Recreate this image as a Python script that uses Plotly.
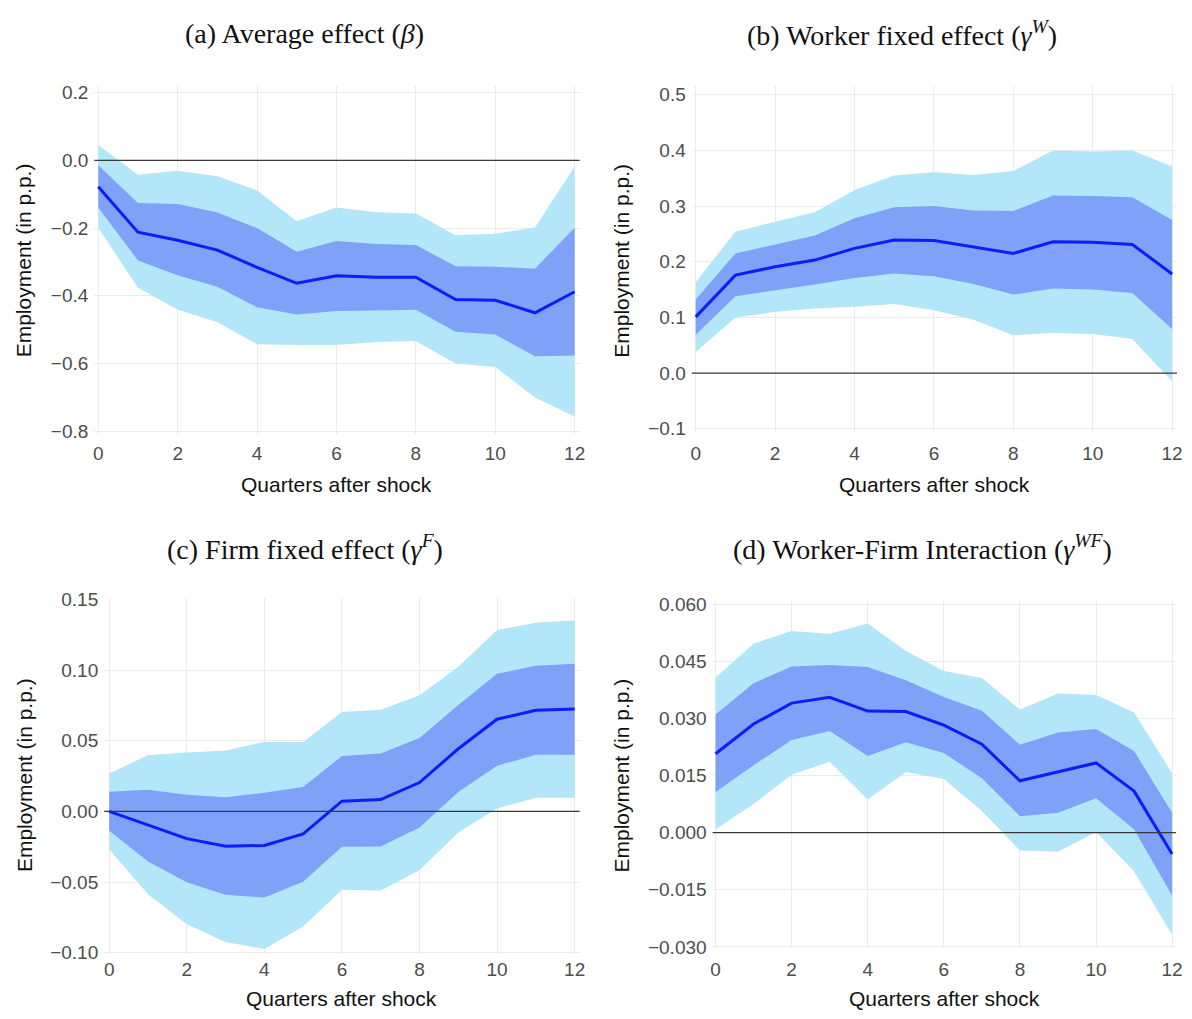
import plotly.graph_objects as go

W, H = 1192, 1019
quarters = list(range(13))

# Panel (a) Average effect (beta)
a_mean = [-0.078, -0.212, -0.236, -0.265, -0.316, -0.363, -0.341, -0.345, -0.345, -0.411, -0.413, -0.450, -0.388]
a_in_hi = [-0.015, -0.126, -0.129, -0.154, -0.200, -0.270, -0.238, -0.247, -0.250, -0.313, -0.314, -0.320, -0.199]
a_in_lo = [-0.139, -0.296, -0.339, -0.373, -0.434, -0.455, -0.445, -0.443, -0.441, -0.506, -0.514, -0.578, -0.576]
a_out_hi = [0.045, -0.043, -0.031, -0.047, -0.089, -0.180, -0.139, -0.153, -0.157, -0.221, -0.217, -0.198, -0.018]
a_out_lo = [-0.199, -0.376, -0.441, -0.477, -0.543, -0.545, -0.545, -0.536, -0.533, -0.600, -0.610, -0.700, -0.756]

# Panel (b) Worker fixed effect
b_mean = [0.101, 0.176, 0.191, 0.203, 0.224, 0.239, 0.238, 0.226, 0.215, 0.236, 0.235, 0.231, 0.178]
b_in_hi = [0.132, 0.215, 0.231, 0.247, 0.278, 0.298, 0.300, 0.292, 0.291, 0.319, 0.318, 0.316, 0.275]
b_in_lo = [0.069, 0.138, 0.148, 0.159, 0.171, 0.179, 0.174, 0.160, 0.141, 0.152, 0.150, 0.144, 0.079]
b_out_hi = [0.163, 0.254, 0.272, 0.289, 0.329, 0.355, 0.361, 0.356, 0.363, 0.400, 0.398, 0.400, 0.371]
b_out_lo = [0.038, 0.100, 0.110, 0.116, 0.119, 0.124, 0.113, 0.096, 0.068, 0.072, 0.070, 0.061, -0.015]

# Panel (c) Firm fixed effect
c_mean = [0.0, -0.0095, -0.0193, -0.0246, -0.0241, -0.016, 0.0072, 0.0084, 0.0204, 0.0443, 0.0652, 0.0715, 0.0724]
c_in_hi = [0.0139, 0.0153, 0.0118, 0.0100, 0.0132, 0.0172, 0.0392, 0.0409, 0.052, 0.0752, 0.0973, 0.1031, 0.1045]
c_in_lo = [-0.0137, -0.0355, -0.0501, -0.059, -0.061, -0.0497, -0.0251, -0.0248, -0.0114, 0.0137, 0.0323, 0.040, 0.040]
c_out_hi = [0.0269, 0.0397, 0.0416, 0.043, 0.0492, 0.049, 0.0703, 0.072, 0.0822, 0.1024, 0.1284, 0.1335, 0.1353]
c_out_lo = [-0.0269, -0.0587, -0.0799, -0.0924, -0.0973, -0.0815, -0.0555, -0.056, -0.0416, -0.0149, 0.0021, 0.0097, 0.0097]

# Panel (d) Worker-Firm interaction
d_mean = [0.0207, 0.0285, 0.0340, 0.0355, 0.0319, 0.0318, 0.0282, 0.0232, 0.0136, 0.0159, 0.0183, 0.0109, -0.0056]
d_in_hi = [0.031, 0.0392, 0.0436, 0.044, 0.0435, 0.040, 0.0356, 0.032, 0.0231, 0.0263, 0.0272, 0.0214, 0.0052]
d_in_lo = [0.0107, 0.0177, 0.0243, 0.0267, 0.0201, 0.0237, 0.0209, 0.0143, 0.0043, 0.0052, 0.009, 0.0009, -0.0165]
d_out_hi = [0.0407, 0.0496, 0.0529, 0.0522, 0.0549, 0.0477, 0.0424, 0.0406, 0.0323, 0.0365, 0.0361, 0.0315, 0.0156]
d_out_lo = [0.0009, 0.0075, 0.0152, 0.0186, 0.0087, 0.0159, 0.0141, 0.0057, -0.0047, -0.005, 0.0002, -0.0101, -0.0268]

titles = [
    "(a) Average effect (<i>β</i>)",
    "(b) Worker fixed effect (<i>γ</i><sup><i>W</i></sup>)",
    "(c) Firm fixed effect (<i>γ</i><sup><i>F</i></sup>)",
    "(d) Worker-Firm Interaction (<i>γ</i><sup><i>WF</i></sup>)",
]
x_title = "Quarters after shock"
y_title = "Employment (in p.p.)"

OUTER = "#b3e6f8"
INNER = "#7fa1f7"
LINE = "#0a1ef5"
GRID = "#ebebeb"
TICK = "#4d4d4d"
SANS = "Liberation Sans, Arial, sans-serif"

panels = [
    dict(mean=a_mean, ih=a_in_hi, il=a_in_lo, oh=a_out_hi, ol=a_out_lo,
         xpx=(93, 582), xr=(-0.1, 12.125), ypx=(78, 433), yr=(-0.8087, 0.2203),
         dt=0.2, fmt=".1f", xso=6, title_xy=(305, 25), xt_y=484, yt_y=256),
    dict(mean=b_mean, ih=b_in_hi, il=b_in_lo, oh=b_out_hi, ol=b_out_lo,
         xpx=(695, 1184), xr=(-0.1, 12.125), ypx=(78, 432), yr=(-0.1083, 0.5164),
         dt=0.1, fmt=".1f", xso=7, title_xy=(907, 25), xt_y=484, yt_y=256),
    dict(mean=c_mean, ih=c_in_hi, il=c_in_lo, oh=c_out_hi, ol=c_out_lo,
         xpx=(103, 582), xr=(-0.128, 12.128), ypx=(600, 962), yr=(-0.1009, 0.1507),
         dt=0.05, fmt=".2f", xso=2, title_xy=(305, 548), xt_y=1007, yt_y=780),
    dict(mean=d_mean, ih=d_in_hi, il=d_in_lo, oh=d_out_hi, ol=d_out_lo,
         xpx=(716, 1183), xr=(-0.078, 12.104), ypx=(603, 956), yr=(-0.0303, 0.0607),
         dt=0.015, fmt=".3f", xso=8, title_xy=(928, 548), xt_y=1007, yt_y=780),
]

fig = go.Figure()
annotations = []
shapes = []
for i, p in enumerate(panels):
    n = "" if i == 0 else str(i + 1)
    xa, ya = "x" + n, "y" + n
    xr = quarters + quarters[::-1]
    fig.add_trace(go.Scatter(x=xr, y=p["oh"] + p["ol"][::-1], fill="toself",
                             fillcolor=OUTER, line=dict(width=0), mode="lines",
                             hoverinfo="skip", showlegend=False, xaxis=xa, yaxis=ya))
    fig.add_trace(go.Scatter(x=xr, y=p["ih"] + p["il"][::-1], fill="toself",
                             fillcolor=INNER, line=dict(width=0), mode="lines",
                             hoverinfo="skip", showlegend=False, xaxis=xa, yaxis=ya))
    fig.add_trace(go.Scatter(x=quarters, y=p["mean"], mode="lines",
                             line=dict(color=LINE, width=3), showlegend=False,
                             xaxis=xa, yaxis=ya))
    # zero reference line
    shapes.append(dict(type="line", xref=xa + " domain", yref=ya, x0=0, x1=1, y0=0, y1=0,
                       line=dict(color="#3a3a3a", width=1.2), layer="above"))
    x0, x1 = p["xpx"]
    yt, yb = p["ypx"]
    fig.update_layout(**{
        ("xaxis" + n): dict(domain=[x0 / W, x1 / W], range=list(p["xr"]), anchor=ya,
                            tickvals=[0, 2, 4, 6, 8, 10, 12], showgrid=True, gridcolor=GRID,
                            gridwidth=1, zeroline=False, showline=False, ticks="",
                            ticklabelstandoff=p["xso"],
                            tickfont=dict(family=SANS, size=19, color=TICK)),
        ("yaxis" + n): dict(domain=[1 - yb / H, 1 - yt / H], range=list(p["yr"]), anchor=xa,
                            dtick=p["dt"], tick0=0, tickformat=p["fmt"], showgrid=True,
                            gridcolor=GRID, gridwidth=1, zeroline=False, showline=False,
                            ticks="", ticklabelstandoff=5,
                            tickfont=dict(family=SANS, size=19, color=TICK)),
    })
    tx, ty = p["title_xy"]
    annotations.append(dict(text=titles[i], x=tx / W, y=1 - ty / H, xref="paper", yref="paper",
                            showarrow=False, xanchor="center", yanchor="middle",
                            font=dict(family="Liberation Serif, Times New Roman, serif",
                                      size=28, color="#111111")))
    annotations.append(dict(text=x_title, x=((x0 + x1) / 2) / W, y=1 - p["xt_y"] / H,
                            xref="paper", yref="paper", showarrow=False,
                            xanchor="center", yanchor="middle",
                            font=dict(family=SANS, size=21, color="#111111")))
    annotations.append(dict(text=y_title, x=(22 + (0 if i % 2 == 0 else 602)) / W,
                            y=1 - p["yt_y"] / H, xref="paper", yref="paper", showarrow=False,
                            textangle=-90, xanchor="center", yanchor="middle",
                            font=dict(family=SANS, size=21, color="#111111")))

fig.update_layout(width=W, height=H, margin=dict(l=0, r=0, t=0, b=0),
                  paper_bgcolor="white", plot_bgcolor="white",
                  annotations=annotations, shapes=shapes)
fig.write_html("out.html")
